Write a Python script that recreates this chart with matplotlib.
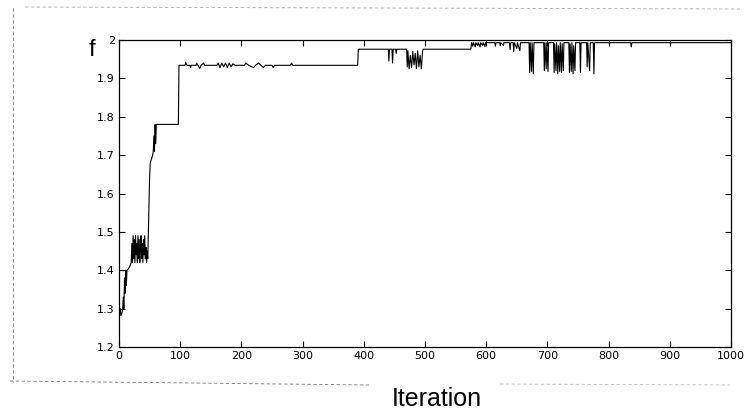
import numpy as np
import matplotlib
matplotlib.use("Agg")
import matplotlib.pyplot as plt
from matplotlib.lines import Line2D

# iteration / fitness values
iters = [0, 2, 3, 5, 6, 7, 8, 9, 10, 11, 12, 13, 16, 18, 20,
         21, 22, 23, 24, 25, 26, 27, 28, 29, 30, 31, 32, 33, 34, 35, 36, 37,
         38, 39, 40, 41, 42, 43, 44, 45, 46, 47,
         48, 49, 50, 51, 53, 55, 56, 57, 58, 59, 60, 61, 97, 98,
         108, 109, 111, 116, 117, 118, 126, 127, 129, 132, 134, 138, 140,
         160, 162, 165, 168, 171, 174, 177, 180, 183, 186, 190,
         205, 207, 212, 220, 223, 228, 232, 236, 239, 250, 252, 254,
         280, 282, 284, 300, 390,
         391, 440, 441, 442, 446, 447, 448, 452, 453, 454,
         470, 471, 472, 474, 476, 478, 480, 482, 484, 486, 488, 490, 492,
         494, 496, 497, 575,
         576, 578, 579, 582, 583, 586, 587, 590, 591, 594, 595, 598, 599,
         614, 615, 616, 622, 623, 624, 628, 629,
         638, 639, 640, 644, 645, 646, 650, 651, 655, 656,
         670, 671, 672, 674, 675, 677, 678,
         694, 695, 696, 698, 699, 701, 702,
         710, 711, 712, 714, 715, 717, 718, 720, 721, 723, 724, 726, 727,
         735, 736, 737, 739, 740, 742, 743, 745, 746,
         753, 754, 755, 764, 765, 766, 769, 770, 775, 776, 777,
         836, 837, 838, 1000]

fvals = [1.285, 1.300, 1.282, 1.290, 1.300, 1.330, 1.300, 1.380, 1.340, 1.400, 1.360, 1.400, 1.405, 1.412, 1.420,
         1.47, 1.42, 1.49, 1.43, 1.48, 1.42, 1.49, 1.44, 1.47, 1.42, 1.49, 1.43, 1.48, 1.42, 1.46, 1.49, 1.43,
         1.47, 1.42, 1.48, 1.44, 1.49, 1.43, 1.46, 1.42, 1.45, 1.43,
         1.50, 1.57, 1.64, 1.68, 1.69, 1.70, 1.71, 1.75, 1.71, 1.78, 1.73, 1.78, 1.78, 1.934,
         1.934, 1.942, 1.934, 1.934, 1.928, 1.934, 1.934, 1.940, 1.934, 1.926, 1.934, 1.940, 1.934,
         1.934, 1.940, 1.928, 1.940, 1.930, 1.940, 1.928, 1.940, 1.930, 1.938, 1.934,
         1.934, 1.940, 1.934, 1.928, 1.934, 1.940, 1.934, 1.928, 1.934, 1.934, 1.928, 1.934,
         1.934, 1.940, 1.934, 1.934, 1.934,
         1.976, 1.976, 1.945, 1.976, 1.976, 1.940, 1.976, 1.976, 1.965, 1.976,
         1.976, 1.930, 1.972, 1.925, 1.960, 1.928, 1.970, 1.935, 1.965, 1.925, 1.972, 1.930, 1.960,
         1.925, 1.970, 1.976, 1.976,
         1.993, 1.984, 1.993, 1.982, 1.993, 1.985, 1.993, 1.982, 1.993, 1.986, 1.993, 1.983, 1.993,
         1.993, 1.984, 1.993, 1.993, 1.985, 1.993, 1.986, 1.993,
         1.993, 1.975, 1.993, 1.993, 1.970, 1.993, 1.978, 1.993, 1.972, 1.993,
         1.993, 1.915, 1.993, 1.918, 1.993, 1.912, 1.993,
         1.993, 1.920, 1.993, 1.925, 1.993, 1.918, 1.993,
         1.993, 1.915, 1.990, 1.920, 1.993, 1.912, 1.985, 1.918, 1.993, 1.915, 1.990, 1.920, 1.993,
         1.993, 1.915, 1.990, 1.918, 1.993, 1.912, 1.985, 1.920, 1.993,
         1.993, 1.915, 1.993, 1.993, 1.930, 1.993, 1.920, 1.993, 1.993, 1.912, 1.993,
         1.993, 1.982, 1.993, 1.993]

xticks = [0, 100, 200, 300, 400, 500, 600, 700, 800, 900, 1000]
yticks = [1.2, 1.3, 1.4, 1.5, 1.6, 1.7, 1.8, 1.9, 2.0]
ytick_labels = ["1.2", "1.3", "1.4", "1.5", "1.6", "1.7", "1.8", "1.9", "2"]

fig = plt.figure(figsize=(7.46, 4.16), dpi=100)
ax = fig.add_axes([119 / 746, 1 - 347 / 416, 612 / 746, 307 / 416])

ax.plot(iters, fvals, color="black", lw=0.8)

ax.set_xlim(0, 1000)
ax.set_ylim(1.2, 2.0)
ax.set_xticks(xticks)
ax.set_yticks(yticks)
ax.set_yticklabels(ytick_labels)
ax.tick_params(direction="in", top=True, right=True, length=4, width=0.8,
               labelsize=8, pad=3)
for s in ax.spines.values():
    s.set_linewidth(0.9)

fig.text(92 / 746, 1 - 50 / 416, "f", fontsize=17, ha="center", va="center",
         family=["Liberation Sans", "DejaVu Sans"])
fig.text(437 / 746, 1 - 406 / 416, "Iteration", fontsize=18, ha="center",
         va="baseline", family=["Liberation Sans", "DejaVu Sans"])

# dashed frame left over from the scan
W, H = 746.0, 416.0
frame = [
    ([13, 13], [8, 382], "#777777"),
    ([10, 370], [381, 385], "#777777"),
    ([25, 740], [7, 9], "#aaaaaa"),
    ([500, 730], [384, 385], "#bbbbbb"),
]
for xs, ys, c in frame:
    fig.add_artist(Line2D([x / W for x in xs], [1 - y / H for y in ys],
                          color=c, lw=0.6, ls=(0, (4, 3))))

fig.savefig("out.png", dpi=100)
